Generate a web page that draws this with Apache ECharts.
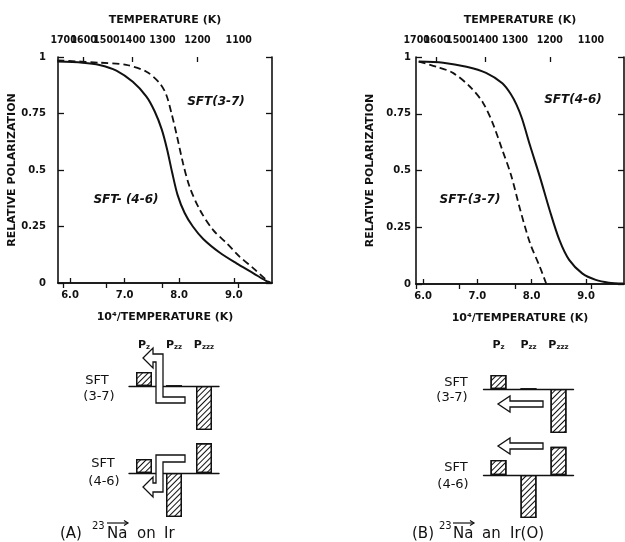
<!DOCTYPE html>
<html><head><meta charset="utf-8">
<script src="https://cdn.jsdelivr.net/npm/echarts@6/dist/echarts.min.js"></script>
<style>html,body{margin:0;padding:0;background:#fff}#c{width:625px;height:542px}</style>
</head><body><div id="c"></div>
<script>
// ---- data ----
const tempTicks = [1700, 1600, 1500, 1400, 1300, 1200, 1100];
const invTTicks = [6.0, 7.0, 8.0, 9.0];
// Panel A (Na on Ir)
const aSolidX = [5.77, 6.23, 6.54, 6.85, 7.15, 7.40, 7.55, 7.68, 7.78, 7.87, 7.97, 8.10, 8.25, 8.44, 8.74, 9.05, 9.36, 9.60, 9.68];
const aSolidY = [0.98, 0.975, 0.965, 0.94, 0.89, 0.825, 0.76, 0.68, 0.59, 0.49, 0.39, 0.31, 0.25, 0.195, 0.135, 0.087, 0.043, 0.008, 0.0];
const aDashX = [5.77, 6.54, 7.03, 7.40, 7.64, 7.76, 7.86, 7.95, 8.07, 8.19, 8.38, 8.62, 8.87, 9.11, 9.36, 9.60, 9.68];
const aDashY = [0.985, 0.975, 0.965, 0.935, 0.885, 0.835, 0.75, 0.66, 0.53, 0.426, 0.323, 0.235, 0.176, 0.116, 0.065, 0.013, 0.0];
// Panel B (Na on Ir(O))
const bSolidX = [5.92, 6.37, 6.80, 7.16, 7.46, 7.62, 7.72, 7.82, 7.97, 8.15, 8.33, 8.51, 8.69, 8.93, 9.18, 9.42, 9.69];
const bSolidY = [0.98, 0.975, 0.957, 0.93, 0.884, 0.835, 0.79, 0.73, 0.61, 0.473, 0.326, 0.194, 0.106, 0.047, 0.018, 0.006, 0.002];
const bDashX = [5.92, 6.25, 6.55, 6.86, 7.10, 7.28, 7.46, 7.62, 7.79, 7.97, 8.15, 8.27];
const bDashY = [0.98, 0.957, 0.93, 0.87, 0.80, 0.71, 0.59, 0.48, 0.326, 0.18, 0.076, 0.0];
// bar diagrams: relative Pz, Pzz, Pzzz
const barCats = ['z', 'zz', 'zzz'];
const barA37 = [0.32, 0, -1.0];
const barA46 = [0.32, -1.0, 0.68];
const barB37 = [0.32, 0, -1.0];
const barB46 = [0.34, -0.98, 0.64];

// ---- chart ----
const FONT = 'DejaVu Sans';
const INK = '#111';
const zip = (xs, ys) => xs.map((x, i) => [x, ys[i]]);
const chart = echarts.init(document.getElementById('c'), null, {renderer: 'canvas'});

const axLine = {show: true, lineStyle: {color: INK, width: 1.6}};
const lbl = {color: INK, fontFamily: FONT, fontSize: 10, fontWeight: 'bold'};
const nameStyle = {color: INK, fontFamily: FONT, fontSize: 11, fontWeight: 'bold'};
const XMAX = 9.7;

function bottomX(grid, min) {
  return {type: 'value', gridIndex: grid, position: 'bottom', min: min, max: XMAX,
    axisLine: axLine, splitLine: {show: false},
    axisTick: {inside: true, length: 5, customValues: invTTicks, lineStyle: {color: INK, width: 1.3}},
    axisLabel: Object.assign({margin: 7, customValues: invTTicks, hideOverlap: false, formatter: v => v.toFixed(1)}, lbl),
    name: '10⁴/TEMPERATURE (K)', nameLocation: 'middle', nameGap: 29, nameTextStyle: nameStyle};
}
// top temperature axis; split into two axes (alternate labels) so no label gets dropped
function topX(grid, min, part) {
  const temps = tempTicks.filter((t, i) => i % 2 === (part === 'odd' ? 1 : 0));
  const pos = temps.map(t => 1e4 / t);
  const main = part === 'even';
  return {type: 'value', gridIndex: grid, position: 'top', min: min, max: XMAX,
    axisLine: main ? axLine : {show: false}, splitLine: {show: false},
    axisTick: {show: true, inside: true, length: 5, customValues: pos, lineStyle: {color: INK, width: 1.3}},
    axisLabel: {margin: 11, customValues: pos, hideOverlap: false, showMinLabel: true, showMaxLabel: true,
      formatter: v => String(Math.round(1e4 / v)),
      color: INK, fontFamily: '"Liberation Sans Narrow", "DejaVu Sans Condensed", "Liberation Sans"', fontSize: 10.5, fontWeight: 'bold'},
    name: main ? 'TEMPERATURE (K)' : '', nameLocation: 'middle', nameGap: 31, nameTextStyle: nameStyle};
}
function leftY(grid, margin, gap) {
  return {type: 'value', gridIndex: grid, position: 'left', min: 0, max: 1, interval: 0.25,
    axisLine: axLine, splitLine: {show: false},
    axisTick: {inside: true, length: 6, lineStyle: {color: INK, width: 1.3}},
    axisLabel: Object.assign({margin: margin, formatter: v => String(v)}, lbl),
    name: 'RELATIVE POLARIZATION', nameLocation: 'middle', nameGap: gap, nameRotate: 90, nameTextStyle: nameStyle};
}
function rightY(grid) {
  return {type: 'value', gridIndex: grid, position: 'right', min: 0, max: 1, interval: 0.25,
    axisLine: axLine, splitLine: {show: false},
    axisTick: {inside: true, length: 6, lineStyle: {color: INK, width: 1.3}},
    axisLabel: {show: false}};
}
const pRich = {p: {fontFamily: FONT, fontSize: 11, fontWeight: 'bold', color: INK},
               s: {fontFamily: FONT, fontSize: 7, fontWeight: 'bold', color: INK, padding: [5, 0, 0, 0]}};
function barBaseX(grid) {
  return {type: 'category', gridIndex: grid, data: barCats,
    axisLine: {show: true, onZero: true, lineStyle: {color: INK, width: 1.4}},
    axisTick: {show: false}, axisLabel: {show: false}, splitLine: {show: false}};
}
function barTopX(grid, offset) {
  return {type: 'category', gridIndex: grid, data: barCats, position: 'top', offset: offset,
    axisLine: {show: false, onZero: false}, axisTick: {show: false},
    axisLabel: {show: true, interval: 0, hideOverlap: false, margin: 0, formatter: v => '{p|P}{s|' + v + '}', rich: pRich},
    splitLine: {show: false}};
}
function barY(grid) {
  return {type: 'value', gridIndex: grid, min: -1, max: 1, show: false};
}
const hatch = {symbol: 'rect', symbolSize: 1, color: INK, dashArrayX: [1, 0], dashArrayY: [1, 3], rotation: -Math.PI / 4};
function barSeries(xi, yi, data) {
  return {type: 'bar', xAxisIndex: xi, yAxisIndex: yi, data: data, barWidth: 16, silent: true,
    itemStyle: {color: '#fff', borderColor: INK, borderWidth: 1.3, decal: hatch}};
}
function line(xi, yi, xs, ys, dashed) {
  return {type: 'line', xAxisIndex: xi, yAxisIndex: yi, data: zip(xs, ys), showSymbol: false,
    smooth: 0.3, silent: true,
    lineStyle: {color: INK, width: dashed ? 1.8 : 2, type: dashed ? [7, 4] : 'solid'}};
}

const sftFont = 'italic bold 12px "' + FONT + '"';
const plainFont = '13px "' + FONT + '"';
const capFont = '15px "' + FONT + '"';
const supFont = '10px "' + FONT + '"';
function txt(text, x, y, font, align) {
  return {type: 'text', z: 100, style: {text: text, x: x, y: y, font: font, fill: INK,
    textAlign: align || 'center', textVerticalAlign: 'middle'}};
}
function arrow(points) {
  return {type: 'polygon', z: 90, shape: {points: points},
    style: {fill: '#fff', stroke: INK, lineWidth: 1.3}};
}
function vecArrow(x1, x2, y) {
  return {type: 'group', z: 100, children: [
    {type: 'line', shape: {x1: x1, y1: y, x2: x2, y2: y}, style: {stroke: INK, lineWidth: 1.2}},
    {type: 'polyline', shape: {points: [[x2 - 4, y - 2.5], [x2, y], [x2 - 4, y + 2.5]]}, style: {stroke: INK, lineWidth: 1.2, fill: null}}
  ]};
}

chart.setOption({
  backgroundColor: '#fff',
  animation: false,
  grid: [
    {left: 58, top: 57, width: 214, height: 226},
    {left: 416, top: 57, width: 208, height: 227},
    {left: 129, top: 342, width: 90, height: 88},
    {left: 129, top: 429, width: 90, height: 88},
    {left: 483.5, top: 345, width: 90, height: 88},
    {left: 483.5, top: 431, width: 90, height: 88}
  ],
  xAxis: [
    bottomX(0, 5.78), topX(0, 5.78, 'even'), topX(0, 5.78, 'odd'),
    bottomX(1, 5.87), topX(1, 5.87, 'even'), topX(1, 5.87, 'odd'),
    barBaseX(2), barTopX(2, -9),
    barBaseX(3),
    barBaseX(4), barTopX(4, -6),
    barBaseX(5)
  ],
  yAxis: [
    leftY(0, 12, 34), rightY(0),
    leftY(1, 5, 40), rightY(1),
    barY(2), barY(3), barY(4), barY(5)
  ],
  series: [
    line(0, 0, aSolidX, aSolidY, false),
    line(0, 0, aDashX, aDashY, true),
    line(3, 2, bSolidX, bSolidY, false),
    line(3, 2, bDashX, bDashY, true),
    barSeries(6, 4, barA37),
    barSeries(8, 5, barA46),
    barSeries(9, 6, barB37),
    barSeries(11, 7, barB46)
  ],
  graphic: [
    txt('SFT(3-7)', 216, 102, sftFont),
    txt('SFT- (4-6)', 126, 200, sftFont),
    txt('SFT(4-6)', 573, 100, sftFont),
    txt('SFT-(3-7)', 470, 200, sftFont),
    txt('SFT', 97, 381, plainFont), txt('(3-7)', 99, 397, plainFont),
    txt('SFT', 103, 464, plainFont), txt('(4-6)', 104, 482, plainFont),
    txt('SFT', 456, 383, plainFont), txt('(3-7)', 452, 398, plainFont),
    txt('SFT', 456, 468, plainFont), txt('(4-6)', 453, 485, plainFont),
    arrow([[185,397],[185,403],[156,403],[156,362],[153,362],[153,368],[143,358],[153,348],[153,354],[163,354],[163,397]]),
    arrow([[156,455],[185,455],[185,462],[163,462],[163,492],[153,492],[153,497],[143,487],[153,477],[153,483],[156,483]]),
    arrow([[543,401],[543,407],[510,407],[510,412],[498,404],[510,396],[510,401]]),
    arrow([[543,443],[543,449],[510,449],[510,454],[498,446],[510,438],[510,443]]),
    txt('(A)', 60, 534, capFont, 'left'), txt('23', 92, 526, supFont, 'left'),
    txt('Na', 107, 534, capFont, 'left'), txt('on', 137, 534, capFont, 'left'), txt('Ir', 164, 534, capFont, 'left'),
    txt('(B)', 412, 534, capFont, 'left'), txt('23', 439, 526, supFont, 'left'),
    txt('Na', 453, 534, capFont, 'left'), txt('an', 482, 534, capFont, 'left'), txt('Ir(O)', 510, 534, capFont, 'left'),
    vecArrow(107, 128, 523),
    vecArrow(453, 474, 523)
  ]
});
</script></body></html>
